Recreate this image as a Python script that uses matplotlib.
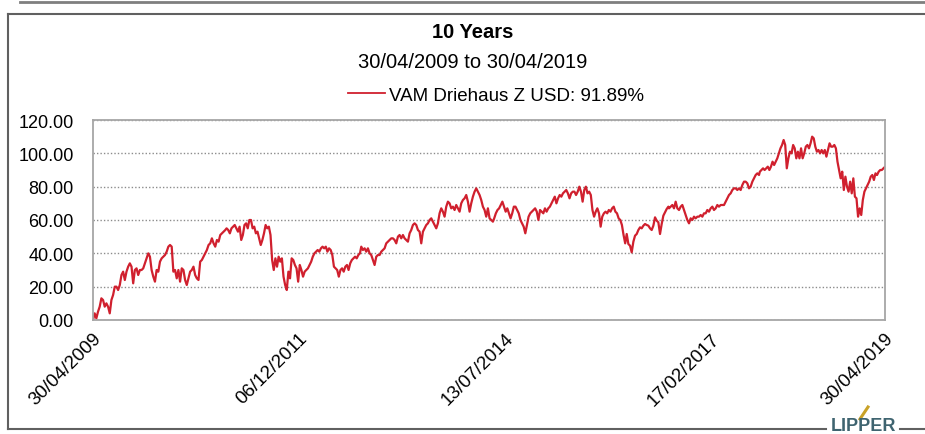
import pandas as pd
import matplotlib
matplotlib.use("Agg")
import matplotlib.pyplot as plt
from matplotlib.lines import Line2D

plt.rcParams['font.family'] = ['Liberation Sans', 'DejaVu Sans']

# values, roughly weekly, split in spans of dates
seg_dates = [
    ("2009-04-30", "2010-12-31"),
    ("2011-01-06", "2012-09-12"),
    ("2012-09-18", "2014-05-18"),
    ("2014-05-24", "2016-01-18"),
    ("2016-01-25", "2016-08-04"),
    ("2016-08-07", "2017-09-26"),
    ("2017-09-30", "2019-04-30"),
]
seg_a = [0, 4, 1, 5, 8, 13, 12, 8, 10, 8, 4, 12, 15, 20, 20, 18, 21, 27, 29, 24,
         29, 32, 34, 32, 22, 30, 31, 27, 30, 30, 31, 34, 37, 40, 38, 30, 26, 23, 30, 29,
         35, 37, 38, 39, 41, 44, 45, 44, 29, 30, 25, 30, 23, 31, 30, 24, 21, 25, 29, 30,
         32, 27, 25, 24, 35, 36, 38, 40, 42, 45, 46, 49, 46, 44, 48, 47, 51, 52, 53, 54]
seg_b = [55, 54, 52, 55, 56, 57, 55, 53, 56, 48, 51, 57, 58, 55, 60, 60, 55, 56, 52, 53,
         49, 45, 48, 52, 57, 55, 56, 51, 36, 30, 37, 32, 38, 35, 37, 26, 21, 18, 29, 25,
         37, 36, 33, 31, 23, 33, 30, 26, 29, 30, 31, 33, 35, 38, 40, 41, 42, 41, 43, 44,
         43, 44, 41, 43, 42, 39, 32, 31, 30, 26, 30, 31, 29, 32, 33, 30, 34, 36, 37, 38,
         37, 39, 40]
seg_c = [44, 42, 43, 41, 43, 40, 39, 36, 33, 38, 39, 39, 41, 42, 43, 46, 47, 48, 49, 49,
         48, 46, 50, 51, 49, 51, 49, 48, 47, 52, 54, 57, 58, 57, 54, 53, 46, 53, 55, 57,
         58, 60, 61, 59, 57, 55, 58, 64, 67, 65, 62, 68, 71, 70, 67, 68, 66, 69, 67, 65,
         70, 72, 73, 75, 71, 65, 70, 74, 77, 79, 77, 75, 72, 68, 66, 62, 67, 61, 60, 59]
seg_d = [61, 64, 66, 67, 69, 71, 68, 65, 67, 64, 61, 64, 68, 68, 66, 64, 60, 58, 56, 52,
         57, 62, 64, 65, 66, 67, 65, 60, 66, 65, 64, 67, 65, 67, 68, 70, 72, 74, 70, 73,
         75, 74, 76, 77, 78, 76, 73, 76, 77, 77, 75, 77, 80, 77, 71, 78, 80, 76, 77, 75,
         66, 62, 65, 67, 64, 56, 62, 64, 65, 64, 66, 65, 67, 68, 65, 64, 61, 60, 57, 51,
         46]
seg_e = [51.6, 45.6, 44.6, 40.6, 47, 50.6, 51.6, 54, 55.6, 55, 56.6, 57.6, 57, 56.6,
         55, 54, 56.6, 61.6, 59.6, 58.6, 51.6, 57.6, 62.6, 64.6, 66.6, 68]
seg_f = [67, 68, 69, 67, 71, 67, 66, 68, 69, 66, 63, 60, 58, 61, 60, 62, 61, 62, 62, 63,
         62, 64, 64, 66, 65, 67, 68, 66, 67, 69, 68, 69, 69, 69, 71, 73, 75, 76, 78, 79,
         79, 78, 79, 78, 81, 83, 83, 82, 79, 80, 83, 85, 87, 88, 87]
seg_g = [89, 90, 91, 90, 91, 92, 90, 92, 95, 93, 95, 97, 100, 103, 105, 108, 105, 91, 97, 101,
         100, 105, 103, 97, 101, 97, 103, 97, 100, 104, 105, 103, 106, 110, 109, 104, 101, 102, 100, 102,
         100, 102, 98, 102, 106, 104, 104, 105, 103, 95, 90, 85, 89, 78, 86, 80, 77, 83, 76, 85,
         74, 73, 62, 67, 63, 72, 77, 79, 81, 83, 86, 87, 84, 88, 87, 89, 90, 90, 91, 91.89]
segments = [seg_a, seg_b, seg_c, seg_d, seg_e, seg_f, seg_g]

tick_labels = ["30/04/2009", "06/12/2011", "13/07/2014", "17/02/2017", "30/04/2019"]
y_ticks = [0, 20, 40, 60, 80, 100, 120]
series_name = "VAM Driehaus Z USD: 91.89%"

parts = [pd.date_range(d0, d1, periods=len(v)) for (d0, d1), v in zip(seg_dates, segments)]
dates = parts[0].append(parts[1:])
values = [v for seg in segments for v in seg]
tick_dates = pd.to_datetime(tick_labels, format="%d/%m/%Y")

W, H = 925, 435
fig = plt.figure(figsize=(W / 100, H / 100), dpi=100)
ax = fig.add_axes([93 / W, (H - 321) / H, 792 / W, 200 / H])

red = '#d0202e'
ax.plot(dates, values, color=red, lw=1.6)

ax.set_xlim(dates[0], dates[-1])
ax.set_ylim(0, 120)
ax.set_yticks(y_ticks)
ax.set_yticklabels(["%.2f" % t for t in y_ticks], fontsize=13)
ax.set_xticks(tick_dates)
ax.set_xticklabels(tick_labels, rotation=45, ha='right', va='top',
                   rotation_mode='anchor', fontsize=13.5)
ax.tick_params(axis='x', length=0, pad=7)
ax.tick_params(axis='y', length=0, pad=14)
ax.grid(axis='y', ls=(0, (1, 1.5)), color='#8c8c8c', lw=1)
ax.set_axisbelow(True)
for s in ax.spines.values():
    s.set_color('#a6a6a6')
    s.set_linewidth(1.3)

fig.text(473 / W, 1 - 33 / H, "10 Years", ha='center', va='center',
         fontsize=14.5, fontweight='bold')
fig.text(473 / W, 1 - 62 / H, "30/04/2009 to 30/04/2019", ha='center', va='center',
         fontsize=14.5)
fig.legend([Line2D([], [], color=red, lw=1.3)], [series_name],
           loc='center', bbox_to_anchor=(496 / W, 1 - 96 / H), frameon=False,
           fontsize=13.5, handlelength=2.0, handletextpad=0.2)

# page frame
def fline(xs, ys, **kw):
    fig.add_artist(Line2D([x / W for x in xs], [1 - y / H for y in ys],
                          transform=fig.transFigure, **kw))

fline([20, 925], [3, 3], color='#7f7f7f', lw=2)
fline([8, 925], [15, 15], color='#606060', lw=1.5)
fline([8, 8], [15, 430], color='#606060', lw=1.5)
fline([8, 826], [430, 430], color='#606060', lw=1.5)
fline([900, 925], [430, 430], color='#606060', lw=1.5)

# logo
fline([860, 868], [420, 408], color='#c9a227', lw=2.2)
fig.text(863 / W, 1 - 427 / H, "LIPPER", ha='center', va='center',
         fontsize=13, fontweight='bold', color='#3f6470')

fig.savefig("out.png", dpi=100)
